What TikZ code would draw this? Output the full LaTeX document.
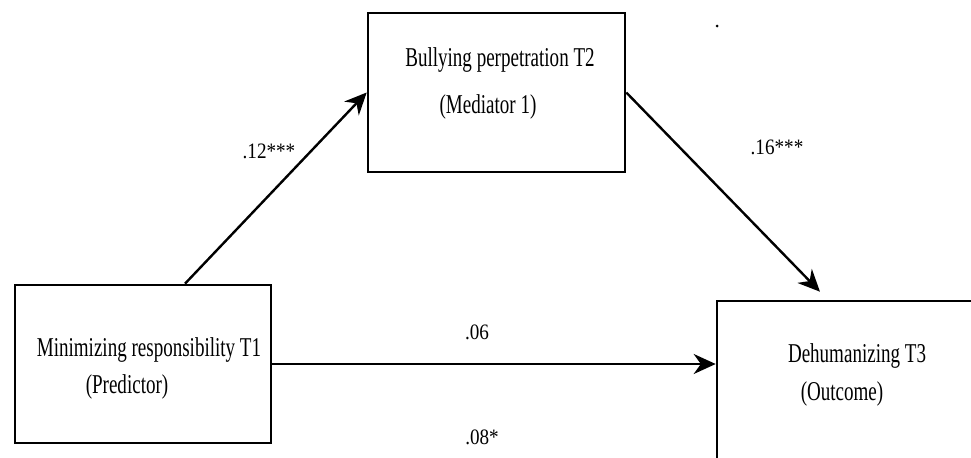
\documentclass[tikz,border=0pt]{standalone}
\usepackage{fontspec}
\setmainfont{Liberation Serif}
\usepackage{tikz}
\usetikzlibrary{arrows.meta,positioning,calc}
\tikzstyle{arrow} = [line width=1.2pt,-{Stealth[length=11pt,width=10pt]}]
\tikzstyle{varbox} = [rectangle, draw, line width=1.3pt, inner sep=0pt]
\tikzstyle{boxtext} = [font=\fontsize{13.6}{16}\selectfont, xscale=0.7, inner sep=0pt]
\tikzstyle{coef} = [font=\fontsize{11}{13}\selectfont, xscale=0.87, inner sep=0pt]

\begin{document}
\begin{tikzpicture}[x=0.5pt, y=0.5pt]
    \useasboundingbox (0,0) rectangle (971,457);
    \clip (0,0) rectangle (971,457);

    % Boxes
    \node[varbox, minimum width=128.5pt, minimum height=79.5pt] (med) at (496.5,364.5) {};
    \node[varbox, minimum width=128pt, minimum height=79pt] (pred) at (143,93) {};
    \node[varbox, minimum width=141.5pt, minimum height=89.5pt] (out) at (858.5,66.5) {};

    % Box texts
    \node[boxtext] (medname) at ($(med.center)+(3.5,32.5)$) {Bullying perpetration T2};
    \node[boxtext] (medrole) at ($(med.center)+(-8.5,-14.5)$) {(Mediator 1)};
    \node[boxtext] (predname) at ($(pred.center)+(6,14)$) {Minimizing responsibility T1};
    \node[boxtext] (predrole) at ($(pred.center)+(-16,-23)$) {(Predictor)};
    \node[boxtext] (outname) at ($(out.center)+(-1.5,34.5)$) {Dehumanizing T3};
    \node[boxtext] (outrole) at ($(out.center)+(-16.5,-3.5)$) {(Outcome)};

    % Arrows
    \coordinate (predtop) at ($(pred.north)+(42,0)$);
    \coordinate (outtop) at ($(out.north)+(-38.5,8)$);
    \draw[arrow] (predtop) -- (med.west);
    \draw[arrow] (med.east) -- (outtop);
    \draw[arrow] (pred.east) -- (pred.east -| out.west);

    % Coefficients
    \node[coef] (c1) at (269,306) {.12***};
    \node[coef] (c2) at (777,310) {.16***};
    \node[coef] (c3) at (477,125) {.06};
    \node[coef] (c4) at (482,20) {.08*};

    % stray mark
    \node[circle, fill, inner sep=0pt, minimum size=1.5pt] (dot) at (717,431) {};
\end{tikzpicture}
\end{document}
